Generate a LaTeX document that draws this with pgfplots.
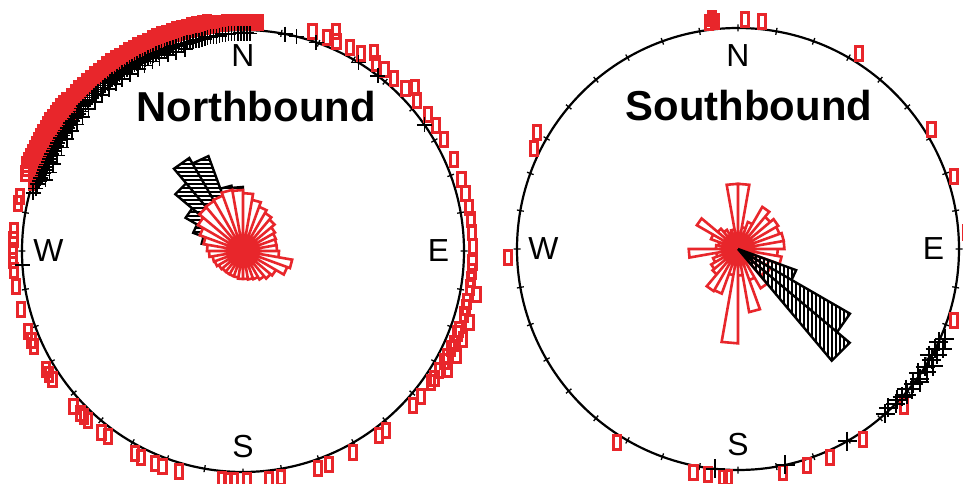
\documentclass[border=0pt]{standalone}
\usepackage{pgfplots}
\pgfplotsset{compat=1.18}
\usepgfplotslibrary{polar}
\usetikzlibrary{patterns.meta}
\usepackage{fontspec}
\setmainfont{Liberation Sans}
\definecolor{myred}{RGB}{232,38,43}
\pgfdeclareplotmark{rbox}{%
  \pgfpathrectangle{\pgfqpoint{-3.6bp}{-7bp}}{\pgfqpoint{7.2bp}{14bp}}%
  \pgfusepathqstroke}
\pgfplotsset{
  compass/.style={
    scale only axis, width=442bp, height=442bp,
    xmin=0, xmax=360, ymin=0, ymax=1,
    clip=false,
    ytick=\empty,
    xtick={0,10,...,350},
    xticklabels={},
    major tick length=7bp,
    tick align=center,
    tick style={black, line width=1.3bp},
    separate axis lines,
    x axis line style={black, line width=2.2bp},
    y axis line style={draw=none},
    xmajorgrids=false, ymajorgrids=false,
    unbounded coords=jump,
  },
  redrose/.style={draw=myred, fill=white, line width=2.6bp, line join=miter},
  redpts/.style={only marks, mark=rbox, color=myred, line width=3bp, mark options={line width=3bp}},
  blkpts/.style={only marks, mark=+, mark size=7.5bp, color=black, line width=1.7bp, mark options={line width=1.7bp}},
}
\newcommand{\dirfont}{\fontsize{32}{32}\selectfont}
\newcommand{\titfont}{\fontsize{42}{42}\selectfont\bfseries}
\begin{document}
\begin{tikzpicture}
\useasboundingbox (0,0) rectangle (963bp,484bp);
% ---------------- Northbound ----------------
\begin{polaraxis}[compass, at={(243bp,233bp)}, anchor=center]
% black hatched wedges
\addplot[draw=black, line width=2.4bp, pattern={Lines[angle=0,distance=4bp,line width=2bp]}, pattern color=black] coordinates {
(0,0) (90,0.29) (100,0.29) (0,0) (nan,nan)
(0,0) (100,0.30) (110,0.30) (0,0) (nan,nan)
(0,0) (110,0.457) (120,0.457) (0,0) (nan,nan)
(0,0) (120,0.486) (130,0.486) (0,0) (nan,nan)
(0,0) (130,0.40) (140,0.40) (0,0) (nan,nan)
(0,0) (140,0.30) (150,0.30) (0,0) (nan,nan)
(0,0) (150,0.24) (160,0.24) (0,0) (nan,nan)
(0,0) (160,0.19) (170,0.19) (0,0)
};
% red wedges
\addplot[redrose] coordinates {
(0,0) (0,0.154) (10,0.154) (0,0) (nan,nan)
(0,0) (10,0.154) (20,0.154) (0,0) (nan,nan)
(0,0) (20,0.158) (30,0.158) (0,0) (nan,nan)
(0,0) (30,0.167) (40,0.167) (0,0) (nan,nan)
(0,0) (40,0.186) (50,0.186) (0,0) (nan,nan)
(0,0) (50,0.199) (60,0.199) (0,0) (nan,nan)
(0,0) (60,0.213) (70,0.213) (0,0) (nan,nan)
(0,0) (70,0.235) (80,0.235) (0,0) (nan,nan)
(0,0) (80,0.262) (90,0.262) (0,0) (nan,nan)
(0,0) (90,0.276) (100,0.276) (0,0) (nan,nan)
(0,0) (100,0.281) (110,0.281) (0,0) (nan,nan)
(0,0) (110,0.267) (120,0.267) (0,0) (nan,nan)
(0,0) (120,0.262) (130,0.262) (0,0) (nan,nan)
(0,0) (130,0.258) (140,0.258) (0,0) (nan,nan)
(0,0) (140,0.235) (150,0.235) (0,0) (nan,nan)
(0,0) (150,0.208) (160,0.208) (0,0) (nan,nan)
(0,0) (160,0.181) (170,0.181) (0,0) (nan,nan)
(0,0) (170,0.163) (180,0.163) (0,0) (nan,nan)
(0,0) (180,0.154) (190,0.154) (0,0) (nan,nan)
(0,0) (190,0.140) (200,0.140) (0,0) (nan,nan)
(0,0) (200,0.136) (210,0.136) (0,0) (nan,nan)
(0,0) (210,0.127) (220,0.127) (0,0) (nan,nan)
(0,0) (220,0.122) (230,0.122) (0,0) (nan,nan)
(0,0) (230,0.122) (240,0.122) (0,0) (nan,nan)
(0,0) (240,0.122) (250,0.122) (0,0) (nan,nan)
(0,0) (250,0.122) (260,0.122) (0,0) (nan,nan)
(0,0) (260,0.127) (270,0.127) (0,0) (nan,nan)
(0,0) (270,0.127) (280,0.127) (0,0) (nan,nan)
(0,0) (280,0.131) (290,0.131) (0,0) (nan,nan)
(0,0) (290,0.136) (300,0.136) (0,0) (nan,nan)
(0,0) (300,0.149) (310,0.149) (0,0) (nan,nan)
(0,0) (310,0.163) (320,0.163) (0,0) (nan,nan)
(0,0) (320,0.172) (330,0.172) (0,0) (nan,nan)
(0,0) (330,0.213) (340,0.213) (0,0) (nan,nan)
(0,0) (340,0.226) (350,0.226) (0,0) (nan,nan)
(0,0) (350,0.163) (360,0.163) (0,0)
};
% red boxes on the circle
\addplot[redpts] coordinates {
(86.0,1.035) (86.6,1.035) (87.3,1.035) (87.9,1.035) (88.5,1.035) (89.2,1.035) (89.8,1.035) (90.4,1.035) (91.1,1.035) (91.7,1.035)
(92.3,1.035) (93.0,1.035) (93.6,1.035) (94.2,1.035) (94.9,1.035) (95.5,1.035) (96.1,1.035) (96.8,1.035) (97.4,1.035) (98.0,1.03)
(98.7,1.03) (99.3,1.03) (99.9,1.03) (100.6,1.03) (101.2,1.03) (101.8,1.03) (102.5,1.03) (103.1,1.03) (103.7,1.03) (104.4,1.03)
(105.0,1.03) (105.6,1.03) (106.3,1.03) (106.9,1.03) (107.5,1.03) (108.2,1.03) (108.8,1.03) (109.4,1.03) (110.1,1.03) (110.7,1.03)
(111.3,1.03) (112.0,1.03) (112.6,1.03) (113.2,1.03) (113.9,1.03) (114.5,1.03) (115.1,1.03) (115.8,1.03) (116.4,1.03) (117.0,1.03)
(117.7,1.03) (118.3,1.03) (118.9,1.03) (119.6,1.03) (120.2,1.03) (120.8,1.03) (121.5,1.03) (122.1,1.03) (122.7,1.03) (123.4,1.03)
(124.0,1.03) (124.6,1.03) (125.3,1.03) (125.9,1.03) (126.5,1.03) (127.2,1.03) (127.8,1.03) (128.4,1.03) (129.1,1.03) (129.7,1.03)
(130.3,1.03) (131.0,1.03) (131.6,1.03) (132.2,1.03) (132.9,1.03) (133.5,1.03) (134.1,1.03) (134.8,1.03) (135.4,1.03) (136.0,1.03)
(136.7,1.03) (137.3,1.03) (137.9,1.03) (138.6,1.03) (139.2,1.03)
(139.8,1.0) (140.5,1.0) (141.1,1.0) (141.7,1.0) (142.4,1.0) (143.0,1.0) (143.6,1.0) (144.3,1.0) (144.9,1.0) (145.5,1.0)
(146.2,1.0) (146.8,1.0) (147.4,1.0) (148.1,1.0) (148.7,1.0) (149.3,1.0) (150.0,1.0) (150.6,1.0) (151.2,1.0) (151.9,1.0)
(152.5,1.0) (153.1,1.0) (153.8,1.0) (154.4,1.0) (155.0,1.0) (155.7,1.0) (156.3,1.0) (156.9,1.0) (157.6,1.0) (158.2,1.0)
(158.8,1.0) (159.5,1.0) (160.1,1.0) (160.7,1.0) (161.4,1.0) (162.0,1.0)
(99.0,1.045) (100.3,1.045) (101.6,1.045) (102.9,1.045) (104.2,1.045) (105.5,1.045) (106.8,1.045) (108.1,1.045) (109.4,1.045)
(110.7,1.045) (112.0,1.045) (113.3,1.045) (114.6,1.045) (115.9,1.045) (117.2,1.045) (118.5,1.045) (119.8,1.045) (121.1,1.045)
(122.4,1.045) (123.7,1.045) (125.0,1.045) (126.3,1.045) (127.6,1.045) (128.9,1.045) (130.2,1.045) (131.5,1.045) (132.8,1.045)
(134.1,1.045) (135.4,1.045) (136.7,1.045) (138.0,1.045)
(139.5,1.05) (140.6,1.055) (141.7,1.055) (142.8,1.055) (143.9,1.055) (145.0,1.055) (146.1,1.055) (147.2,1.055) (148.3,1.055)
(149.4,1.055) (150.5,1.055) (151.6,1.055) (152.7,1.055) (153.8,1.055) (154.9,1.055) (156.0,1.055) (157.1,1.055) (158.2,1.055)
(159.3,1.05) (160.4,1.045)
(72.4,1.04) (68.5,1.04) (67.0,1.08) (66.0,1.04) (62.3,1.04) (59.0,1.04) (56.5,1.075) (54.7,1.04) (52.0,1.04) (48.8,1.04)
(45.0,1.04) (43.5,1.075) (40.8,1.04) (36.3,1.04) (33.0,1.04) (29.0,1.04) (23.5,1.04) (18.0,1.04)
(14.5,1.04) (11.0,1.04) (8.0,1.04) (4.6,1.04) (1.0,1.04) (-2.8,1.04) (-5.0,1.04) (-7.0,1.04) (-9.1,1.04) (-10.5,1.075) (-12.6,1.04)
(-14.2,1.04) (-16.0,1.04) (-17.5,1.075) (-19.9,1.04) (-21.0,1.04) (-22.0,1.075) (-23.6,1.04) (-25.0,1.04) (-26.0,1.075) (-27.4,1.04)
(-28.8,1.04) (-30.0,1.07) (-31.4,1.04) (-33.6,1.04) (-35.0,1.04) (-39.2,1.04) (-42.3,1.04)
(-51.5,1.04) (-53.6,1.04) (-61.4,1.04) (-68.1,1.04) (-70.9,1.04) (-80.5,1.04) (-83.6,1.04) (-89.0,1.04) (-92.3,1.04)
(-93.8,1.04) (-95.2,1.04) (-106.2,1.04) (-110.5,1.04) (-112.6,1.04) (-116.3,1.04) (-118.0,1.04) (-126.0,1.04) (-128.0,1.04)
(-132.5,1.04) (-133.8,1.04) (-135.0,1.04) (-137.5,1.04) (-146.0,1.04) (-147.5,1.04) (-149.0,1.04) (-155.4,1.04) (-157.0,1.04)
(-159.4,1.04) (-165.2,1.04) (-171.0,1.04)
(166.2,1.04) (168.0,1.04) (174.8,1.04) (177.2,1.04) (179.8,1.04) (182.3,1.04) (184.8,1.04)
};
% black crosses
\addplot[blkpts] coordinates {
(88.2,0.985) (89.0,0.985) (89.8,0.985) (90.6,0.985) (91.4,0.985) (92.2,0.985) (93.0,0.985) (93.8,0.985) (94.6,0.985) (95.4,0.985)
(96.2,0.98) (97.0,0.98) (97.8,0.98) (98.6,0.98) (99.4,0.98) (100.2,0.975) (101.0,0.975) (101.8,0.975) (102.6,0.975) (103.4,0.975)
(104.2,0.975) (105.0,0.975) (105.8,0.975) (106.6,0.975) (107.4,0.975) (108.2,0.975) (109.0,0.975) (109.8,0.975) (110.6,0.975)
(111.4,0.975) (112.2,0.975) (113.0,0.975) (113.8,0.975) (114.6,0.975) (115.4,0.975) (116.2,0.975) (117.0,0.975) (117.8,0.975)
(118.6,0.975) (119.4,0.975) (120.2,0.975) (121.0,0.975) (121.8,0.975) (122.6,0.975) (123.4,0.975) (124.2,0.975) (125.0,0.975)
(125.8,0.975) (126.6,0.975) (127.4,0.975) (128.2,0.975) (129.0,0.975) (129.8,0.975) (130.6,0.975) (131.4,0.975) (132.2,0.975)
(133.0,0.975) (133.8,0.975) (134.6,0.975) (135.4,0.975) (136.2,0.975) (137.0,0.975) (137.8,0.975) (138.6,0.975) (139.4,0.97)
(140.2,0.97) (141.0,0.97) (141.8,0.97) (142.6,0.97) (143.4,0.97) (144.2,0.97) (145.0,0.97) (145.8,0.97) (146.6,0.97) (147.4,0.97)
(148.2,0.97) (149.0,0.97) (149.8,0.97) (150.6,0.97) (151.4,0.97) (152.2,0.97) (153.0,0.97) (153.8,0.97) (154.6,0.97) (155.4,0.97)
(156.2,0.97) (157.0,0.97) (157.8,0.97) (158.6,0.97) (159.4,0.97) (160.2,0.975) (161.0,0.975) (162.0,0.98) (163.2,0.98)
(164.5,0.985) (183.6,1)
(106.0,0.95) (108.6,0.95) (111.0,0.95) (113.4,0.95) (115.5,0.95) (118.0,0.95) (120.0,0.95) (122.6,0.95) (125.1,0.95)
(127.3,0.95) (129.6,0.95) (132.1,0.95) (134.9,0.95) (137.4,0.95) (140.2,0.945) (142.7,0.945) (145.0,0.945) (147.6,0.945)
(150.3,0.945) (152.8,0.945) (155.4,0.945) (157.9,0.945) (160.2,0.95)
(79.0,1) (76.0,1) (70.7,1) (58.5,1) (52.4,1) (34.8,1)
};
\node[font=\dirfont] at (axis cs:90,0.885) {N};
\node[font=\dirfont] at (axis cs:0,0.885) {E};
\node[font=\dirfont] at (axis cs:270,0.885) {S};
\node[font=\dirfont] at (axis cs:180,0.88) {W};
\node[font=\titfont] at (axis cs:84.8,0.655) {Northbound};
\end{polaraxis}
% ---------------- Southbound ----------------
\begin{polaraxis}[compass, at={(738bp,235bp)}, anchor=center]
\addplot[redrose] coordinates {
(0,0) (0,0.21) (10,0.21) (0,0) (nan,nan)
(0,0) (10,0.21) (20,0.21) (0,0) (nan,nan)
(0,0) (20,0.20) (30,0.20) (0,0) (nan,nan)
(0,0) (30,0.21) (40,0.21) (0,0) (nan,nan)
(0,0) (40,0.19) (50,0.19) (0,0) (nan,nan)
(0,0) (50,0.22) (60,0.22) (0,0) (nan,nan)
(0,0) (60,0.13) (70,0.13) (0,0) (nan,nan)
(0,0) (70,0.10) (80,0.10) (0,0) (nan,nan)
(0,0) (80,0.295) (90,0.295) (0,0) (nan,nan)
(0,0) (90,0.295) (100,0.295) (0,0) (nan,nan)
(0,0) (100,0.09) (110,0.09) (0,0) (nan,nan)
(0,0) (110,0.08) (120,0.08) (0,0) (nan,nan)
(0,0) (120,0.10) (130,0.10) (0,0) (nan,nan)
(0,0) (130,0.12) (140,0.12) (0,0) (nan,nan)
(0,0) (140,0.215) (150,0.215) (0,0) (nan,nan)
(0,0) (150,0.13) (160,0.13) (0,0) (nan,nan)
(0,0) (160,0.09) (170,0.09) (0,0) (nan,nan)
(0,0) (170,0.10) (180,0.10) (0,0) (nan,nan)
(0,0) (180,0.223) (190,0.223) (0,0) (nan,nan)
(0,0) (190,0.10) (200,0.10) (0,0) (nan,nan)
(0,0) (200,0.12) (210,0.12) (0,0) (nan,nan)
(0,0) (210,0.14) (220,0.14) (0,0) (nan,nan)
(0,0) (220,0.15) (230,0.15) (0,0) (nan,nan)
(0,0) (230,0.22) (240,0.22) (0,0) (nan,nan)
(0,0) (240,0.215) (250,0.215) (0,0) (nan,nan)
(0,0) (250,0.12) (260,0.12) (0,0) (nan,nan)
(0,0) (260,0.427) (270,0.427) (0,0) (nan,nan)
(0,0) (270,0.12) (280,0.12) (0,0) (nan,nan)
(0,0) (280,0.29) (290,0.29) (0,0) (nan,nan)
(0,0) (290,0.15) (300,0.15) (0,0) (nan,nan)
(0,0) (300,0.205) (310,0.205) (0,0) (nan,nan)
(0,0) (310,0.16) (320,0.16) (0,0) (nan,nan)
(0,0) (320,0.17) (330,0.17) (0,0) (nan,nan)
(0,0) (330,0.15) (340,0.15) (0,0) (nan,nan)
(0,0) (340,0.20) (350,0.20) (0,0) (nan,nan)
(0,0) (350,0.18) (360,0.18) (0,0)
};
\addplot[draw=black, line width=2.4bp, pattern={Lines[angle=90,distance=4bp,line width=1.8bp]}, pattern color=black] coordinates {
(0,0) (310,0.66) (320,0.66) (0,0) (nan,nan)
(0,0) (320,0.585) (330,0.585) (0,0) (nan,nan)
(0,0) (330,0.28) (340,0.28) (0,0)
};
\addplot[redpts] coordinates {
(95.8,1.035) (97.2,1.035) (96.5,1.05) (88.2,1.04) (84.0,1.035) (58.2,1.04) (31.8,1.03) (18.6,1.03) (4.0,1.04)
(-18.4,1.03) (-43.6,1.035) (-56.7,1.03) (-66.1,1.03) (-72.4,1.03) (-78.6,1.03) (-92.6,1.035) (-93.8,1.035)
(-97.5,1.03) (-101.3,1.03) (-122.0,1.03) (182.0,1.04) (153.7,1.03) (149.9,1.05)
};
\addplot[blkpts, mark size=9.5bp, line width=2bp, mark options={line width=2bp}] coordinates {
(-23.5,1.02) (-24.8,1.0) (-26.0,1.03) (-26.9,1.0) (-28.0,1.02) (-29.0,0.99) (-29.8,1.01) (-31.0,1.03) (-32.2,1.0)
(-33.2,1.02) (-34.5,0.99) (-35.5,1.01) (-36.2,1.02) (-37.5,1.0) (-38.9,1.01) (-39.8,0.99) (-40.8,1.01) (-42.0,1.0)
(-43.5,0.99) (-44.5,1.0) (-46.6,0.99) (-48.2,1.0) (-60.4,1) (-77.6,1) (-95.9,1)
};
\node[font=\dirfont] at (axis cs:90,0.875) {N};
\node[font=\dirfont] at (axis cs:0,0.885) {E};
\node[font=\dirfont] at (axis cs:270,0.885) {S};
\node[font=\dirfont] at (axis cs:180,0.88) {W};
\node[font=\titfont] at (axis cs:85.6,0.649) {Southbound};
\end{polaraxis}
\end{tikzpicture}
\end{document}
